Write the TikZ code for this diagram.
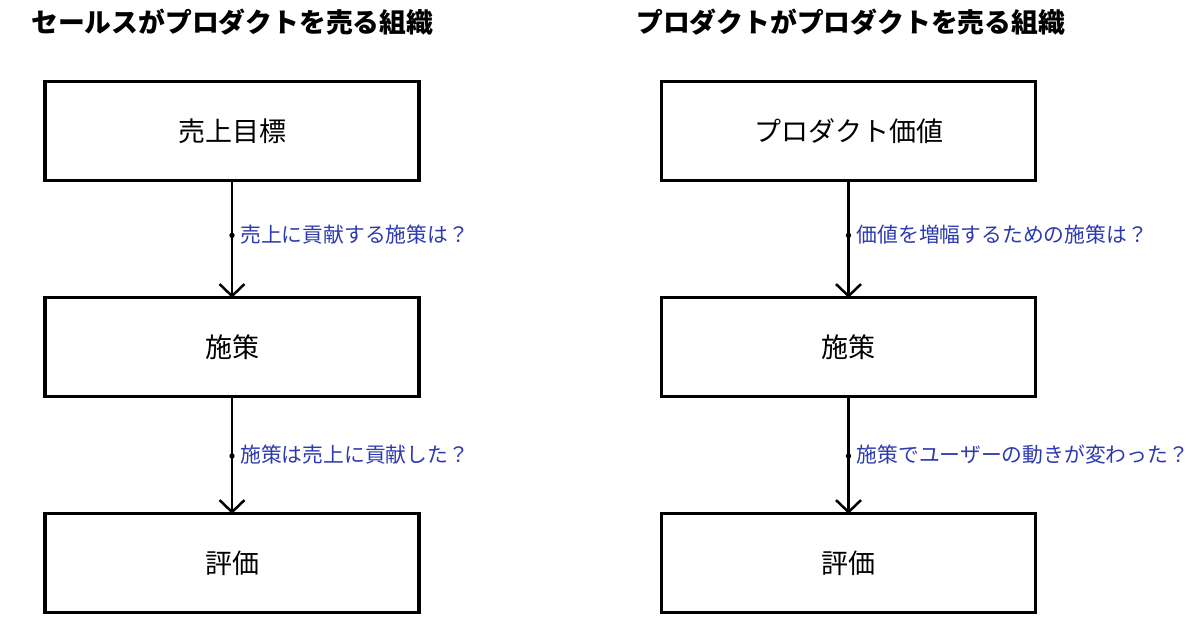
\documentclass[tikz,border=0pt]{standalone}
\usepackage{fontspec}
\setmainfont{Noto Sans CJK JP}
\usetikzlibrary{arrows.meta}
\definecolor{lblue}{RGB}{45,58,175}
\begin{document}
\begin{tikzpicture}[x=1pt,y=-1pt,
  box/.style={draw=black,line width=3.4pt,minimum width=374pt,minimum height=99pt,inner sep=0pt,font=\fontsize{27}{30}\selectfont},
  conn/.style={line width=2.5pt,-{Straight Barb[length=12pt,width=25pt,line width=2.5pt]}},
  lbl/.style={anchor=west,text=lblue,font=\fontsize{20.8}{24}\selectfont,inner sep=0pt,xshift=8pt},
  ttl/.style={anchor=west,inner sep=0pt,font=\fontsize{26.8}{30}\selectfont\bfseries}]
\useasboundingbox (0,0) rectangle (1204,628);
\node[ttl] (t1) at (31,22) {セールスがプロダクトを売る組織};
\node[ttl] (t2) at (636,22) {プロダクトがプロダクトを売る組織};
% left column
\node[box] (a1) at (232,131) {売上目標};
\node[box] (a2) at (232,347) {施策};
\node[box] (a3) at (232,563) {評価};
\draw[conn] (a1.south) -- coordinate[pos=0.46] (m1) ([yshift=-2pt]a2.north);
\draw[conn] (a2.south) -- coordinate[pos=0.5] (m2) ([yshift=-2pt]a3.north);
\fill (m1) circle (2.7pt);
\fill (m2) circle (2.7pt);
\node[lbl] (l1) at ([yshift=1pt]m1) {売上に貢献する施策は？};
\node[lbl] (l2) at ([yshift=1pt]m2) {施策は売上に貢献した？};
% right column
\node[box] (b1) at (848.5,131) {プロダクト価値};
\node[box] (b2) at (848.5,347) {施策};
\node[box] (b3) at (848.5,563) {評価};
\draw[conn] (b1.south) -- coordinate[pos=0.46] (n1) ([yshift=-2pt]b2.north);
\draw[conn] (b2.south) -- coordinate[pos=0.5] (n2) ([yshift=-2pt]b3.north);
\fill (n1) circle (2.7pt);
\fill (n2) circle (2.7pt);
\node[lbl] (r1) at ([yshift=1pt]n1) {価値を増幅するための施策は？};
\node[lbl] (r2) at ([yshift=1pt]n2) {施策でユーザーの動きが変わった？};
\end{tikzpicture}
\end{document}
